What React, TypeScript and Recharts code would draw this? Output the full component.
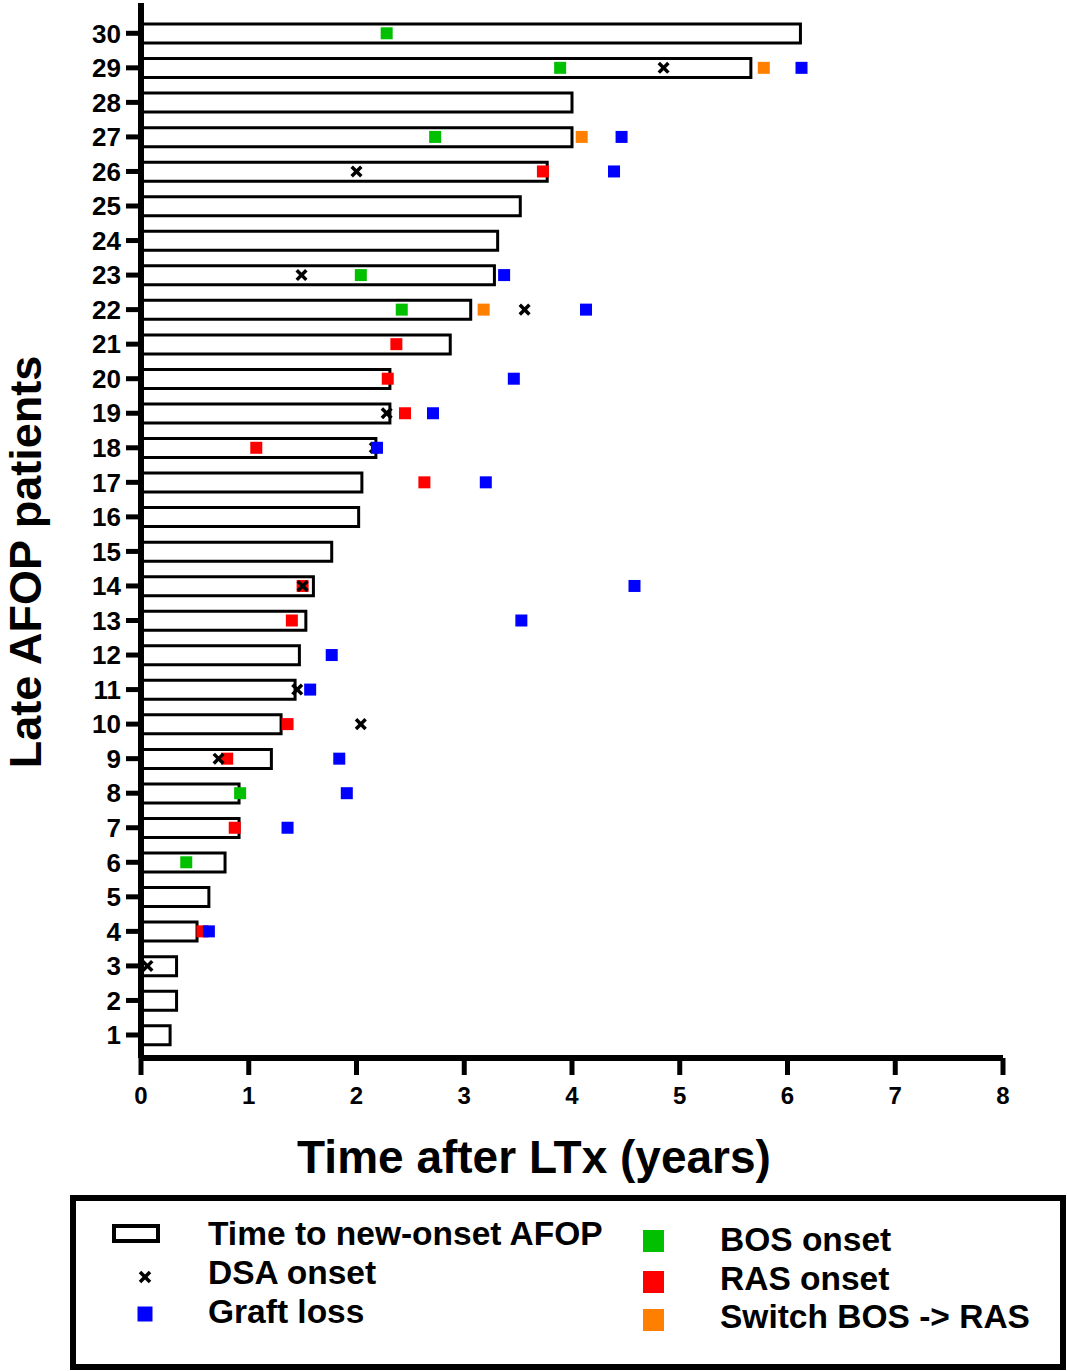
import React from 'react';
import { ComposedChart, Bar, Scatter, XAxis, YAxis } from 'recharts';

const FONT = '"Liberation Sans", Arial, Helvetica, sans-serif';

// patient number (1..30)
const patientIds = [
  1, 2, 3, 4, 5, 6, 7, 8, 9, 10, 11, 12, 13, 14, 15, 16, 17, 18, 19, 20, 21, 22, 23, 24, 25, 26, 27, 28, 29, 30,
];
// time to new-onset AFOP (years), same order as patientIds
const afopYears = [
  0.27, 0.33, 0.33, 0.52, 0.63, 0.78, 0.91, 0.91, 1.21, 1.3, 1.43, 1.47, 1.53, 1.6, 1.77, 2.02, 2.05, 2.18, 2.31,
  2.31, 2.87, 3.06, 3.28, 3.31, 3.52, 3.77, 4.0, 4.0, 5.66, 6.12,
];

// [patient, years]
const bosOnset = [
  [30, 2.28], [29, 3.89], [27, 2.73], [23, 2.04], [22, 2.42], [8, 0.92], [6, 0.42],
];
const rasOnset = [
  [26, 3.73], [21, 2.37], [20, 2.29], [19, 2.45], [18, 1.07], [17, 2.63], [14, 1.5], [13, 1.4], [10, 1.36],
  [9, 0.8], [7, 0.87], [4, 0.57],
];
const switchBosRas = [
  [29, 5.78], [27, 4.09], [22, 3.18],
];
const dsaOnset = [
  [29, 4.85], [26, 2.0], [23, 1.49], [22, 3.56], [19, 2.28], [18, 2.17], [14, 1.5], [11, 1.45], [10, 2.04],
  [9, 0.72], [3, 0.06],
];
const graftLoss = [
  [29, 6.13], [27, 4.46], [26, 4.39], [23, 3.37], [22, 4.13], [20, 3.46], [19, 2.71], [18, 2.19], [17, 3.2],
  [14, 4.58], [13, 3.53], [12, 1.77], [11, 1.57], [9, 1.84], [8, 1.91], [7, 1.36], [4, 0.63],
];

const xTicks = [0, 1, 2, 3, 4, 5, 6, 7, 8];
const yTicks = patientIds;

const GREEN = '#00c000';
const RED = '#ff0000';
const ORANGE = '#ff8000';
const BLUE = '#0000ff';

const barData = patientIds.map((p, i) => ({ patient: p, afop: afopYears[i] }));
const toPts = (arr: number[][]) => arr.map(([p, t]) => ({ patient: p, t }));

const squareShape = (color: string) => (props: any) => {
  const { cx, cy } = props;
  if (cx == null || cy == null) return <g />;
  return <rect x={cx - 6} y={cy - 6} width={12} height={12} fill={color} />;
};

const crossShape = (props: any) => {
  const { cx, cy } = props;
  if (cx == null || cy == null) return <g />;
  const s = 4.8;
  return (
    <g stroke="#000" strokeWidth={3.5}>
      <line x1={cx - s} y1={cy - s} x2={cx + s} y2={cy + s} />
      <line x1={cx - s} y1={cy + s} x2={cx + s} y2={cy - s} />
    </g>
  );
};

const tickStyle = { fill: '#000', fontSize: 26, fontWeight: 700, fontFamily: FONT };
const xTickStyle = { fill: '#000', fontSize: 24, fontWeight: 700, fontFamily: FONT };

export default function App() {
  return (
    <div style={{ position: 'absolute', left: 0, top: 0, width: 1067, height: 1371, background: '#fff' }}>
      <ComposedChart
        width={1067}
        height={1371}
        data={barData}
        layout="vertical"
        margin={{ top: 3, right: 64, bottom: 253, left: 61 }}
      >
        <Bar
          dataKey="afop"
          barSize={19}
          fill="#fff"
          stroke="#000"
          strokeWidth={3}
          isAnimationActive={false}
        />
        <Scatter data={toPts(bosOnset)} dataKey="t" shape={squareShape(GREEN)} isAnimationActive={false} />
        <Scatter data={toPts(rasOnset)} dataKey="t" shape={squareShape(RED)} isAnimationActive={false} />
        <Scatter data={toPts(switchBosRas)} dataKey="t" shape={squareShape(ORANGE)} isAnimationActive={false} />
        <Scatter data={toPts(dsaOnset)} dataKey="t" shape={crossShape} isAnimationActive={false} />
        <Scatter data={toPts(graftLoss)} dataKey="t" shape={squareShape(BLUE)} isAnimationActive={false} />
        <XAxis
          type="number"
          domain={[0, 8]}
          ticks={xTicks}
          allowDataOverflow
          height={60}
          tickSize={17}
          tickMargin={12}
          axisLine={{ stroke: '#000', strokeWidth: 6 }}
          tickLine={{ stroke: '#000', strokeWidth: 5 }}
          tick={xTickStyle}
          interval={0}
        />
        <YAxis
          type="number"
          dataKey="patient"
          domain={[0.334, 30.877]}
          ticks={yTicks}
          reversed
          allowDataOverflow
          width={80}
          tickSize={15}
          tickMargin={5}
          axisLine={{ stroke: '#000', strokeWidth: 6 }}
          tickLine={{ stroke: '#000', strokeWidth: 5 }}
          tick={tickStyle}
          interval={0}
        />
      </ComposedChart>
      <svg
        width={1067}
        height={1371}
        style={{ position: 'absolute', left: 0, top: 0, pointerEvents: 'none' }}
        fontFamily={FONT}
        fontWeight={700}
      >
        <text x={534} y={1173} textAnchor="middle" fontSize={46} fill="#000">
          Time after LTx (years)
        </text>
        <text transform="translate(41,562) rotate(-90)" textAnchor="middle" fontSize={45} fill="#000">
          Late AFOP patients
        </text>
        <rect x={73} y={1198} width={990} height={169} fill="none" stroke="#000" strokeWidth={6} />
        <rect x={114} y={1226} width={44} height={15} fill="#fff" stroke="#000" strokeWidth={4} />
        <g stroke="#000" strokeWidth={3.5}>
          <line x1={140} y1={1272} x2={150} y2={1282} />
          <line x1={140} y1={1282} x2={150} y2={1272} />
        </g>
        <rect x={137.5} y={1306.5} width={15} height={15} fill={BLUE} />
        <rect x={643} y={1230} width={21} height={22} fill={GREEN} />
        <rect x={643} y={1271} width={21} height={22} fill={RED} />
        <rect x={643} y={1309} width={21} height={22} fill={ORANGE} />
        <g fontSize={33.5} fill="#000">
          <text x={208} y={1245}>Time to new-onset AFOP</text>
          <text x={208} y={1284}>DSA onset</text>
          <text x={208} y={1323}>Graft loss</text>
          <text x={720} y={1251}>BOS onset</text>
          <text x={720} y={1290}>RAS onset</text>
          <text x={720} y={1328}>Switch BOS -&gt; RAS</text>
        </g>
      </svg>
    </div>
  );
}
